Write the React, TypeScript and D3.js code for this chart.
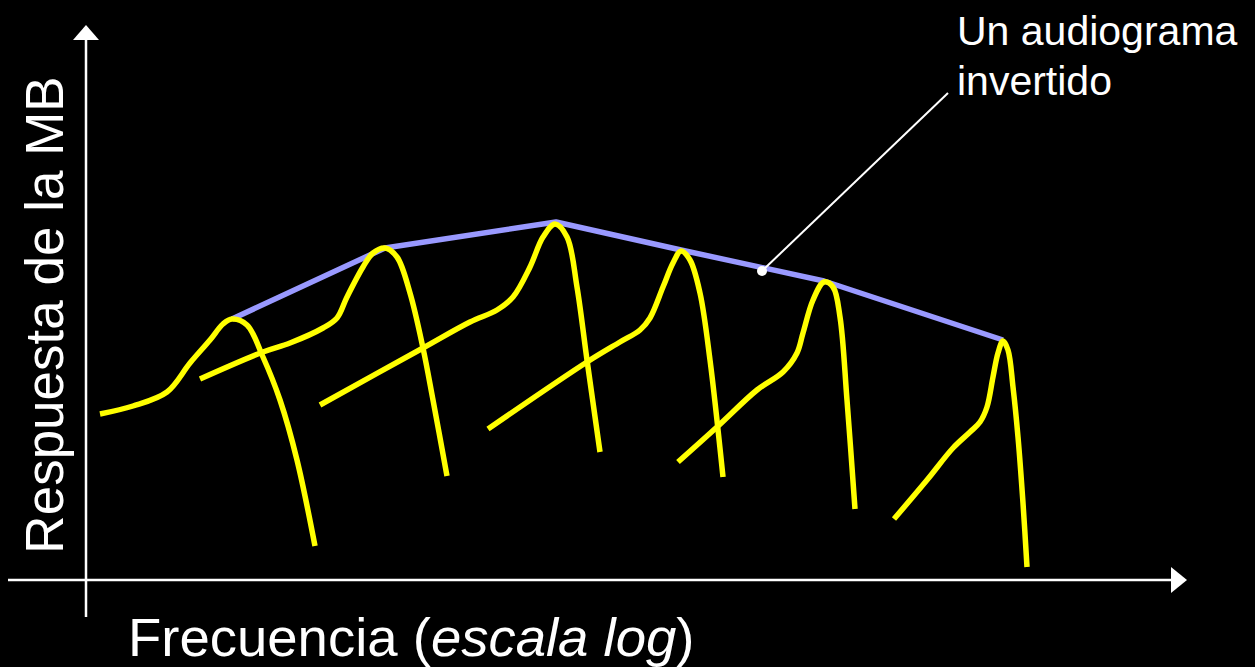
import React, { useEffect } from "react";
import * as d3 from "d3";

// tuning curves of the basilar membrane: [log frequency, response]
const curve1: [number, number][] = [
  [1.4, 16.6], [4.7, 17.4], [8.1, 18.8], [10.4, 21.7], [12.4, 24.0], [13.7, 25.6],
  [14.6, 26.1], [16.1, 25.5], [17.7, 22.3], [19.4, 18.0], [21.1, 12.0], [22.9, 3.4],
];
const curve2: [number, number][] = [
  [11.4, 20.1], [17.7, 22.8], [20.4, 23.7], [23.7, 25.2], [25.1, 26.2], [26.1, 28.3],
  [27.7, 31.3], [28.7, 32.7], [29.9, 33.2], [31.1, 32.3], [32.4, 28.7], [33.7, 23.2],
  [34.7, 18.0], [36.1, 10.4],
];
const curve3: [number, number][] = [
  [23.4, 17.5], [33.7, 23.2], [38.4, 25.8], [41.1, 27.0], [42.7, 28.3], [44.4, 31.3],
  [45.7, 34.3], [46.9, 35.6], [48.1, 34.3], [49.1, 29.3], [50.1, 22.0], [51.4, 12.8],
];
const curve4: [number, number][] = [
  [40.2, 15.1], [50.1, 21.8], [53.4, 23.8], [55.4, 25.0], [56.4, 26.2], [57.7, 29.3],
  [58.7, 31.7], [59.5, 32.9], [60.4, 32.0], [61.4, 28.7], [62.4, 22.0], [63.7, 10.3],
];
const curve5: [number, number][] = [
  [59.2, 11.8], [63.1, 15.3], [67.1, 19.0], [69.7, 20.8], [71.1, 22.7], [71.7, 24.7],
  [72.7, 28.0], [73.8, 29.8], [74.7, 29.3], [75.4, 26.3], [76.1, 18.0], [76.9, 7.1],
];
const curve6: [number, number][] = [
  [80.8, 6.1], [84.1, 10.0], [86.7, 13.2], [88.4, 14.8], [89.4, 15.8], [90.1, 17.3],
  [90.7, 20.3], [91.2, 22.7], [91.7, 23.9], [92.2, 23.0], [92.7, 19.3], [93.2, 14.3],
  [93.7, 7.7], [94.1, 1.3],
];
const curves = [curve1, curve2, curve3, curve4, curve5, curve6];

// the envelope through the peaks ("inverted audiogram")
const envelope: [number, number][] = [
  [14.6, 26.1], [29.9, 33.2], [47.0, 35.8], [59.5, 33.0], [73.8, 29.9], [91.7, 24.0],
];

const noteDot: [number, number] = [67.6, 30.9];
const noteEnd: [number, number] = [86.2, 48.7];
const noteLines = ["Un audiograma", "invertido"];
const yLabel = "Respuesta de la MB";
const xLabel = ["Frecuencia (", "escala log", ")"];

const W = 1255;
const H = 667;
const FONT = "'Liberation Sans', Arial, sans-serif";

export default function App() {
  useEffect(() => {
    document.body.style.margin = "0";
    document.body.style.background = "#000";
  }, []);

  const x = d3.scaleLinear().domain([0, 110]).range([86, 1186]);
  const y = d3.scaleLinear().domain([0, 56]).range([580, 20]);

  const smooth = d3
    .line<[number, number]>()
    .x((d) => x(d[0]))
    .y((d) => y(d[1]))
    .curve(d3.curveCatmullRom.alpha(0.5));
  const straight = d3
    .line<[number, number]>()
    .x((d) => x(d[0]))
    .y((d) => y(d[1]));

  // axes
  const x0 = x(0);
  const y0 = y(0);
  const xTip = x(110.1);
  const yTip = y(55.5);

  return (
    <div style={{ position: "fixed", inset: 0, background: "#000" }}>
      <svg width={W} height={H} style={{ display: "block" }} fontFamily={FONT}>
        <rect width={W} height={H} fill="#000" />

        {/* axes */}
        <line x1={x(-7.8)} y1={y0} x2={xTip - 14} y2={y0} stroke="#fff" strokeWidth={2.5} />
        <polygon
          points={`${xTip},${y0} ${xTip - 16},${y0 - 13} ${xTip - 16},${y0 + 13}`}
          fill="#fff"
        />
        <line x1={x0} y1={y(-3.7)} x2={x0} y2={yTip + 14} stroke="#fff" strokeWidth={2.5} />
        <polygon
          points={`${x0},${yTip} ${x0 - 13},${yTip + 15} ${x0 + 13},${yTip + 15}`}
          fill="#fff"
        />

        {/* envelope */}
        <path
          d={straight(envelope) ?? ""}
          fill="none"
          stroke="#9999ff"
          strokeWidth={5.5}
          strokeLinejoin="round"
        />

        {/* tuning curves */}
        {curves.map((c, i) => (
          <path
            key={i}
            d={smooth(c) ?? ""}
            fill="none"
            stroke="#ffff00"
            strokeWidth={5.5}
            strokeLinejoin="round"
          />
        ))}

        {/* annotation */}
        <line
          x1={x(noteDot[0])}
          y1={y(noteDot[1])}
          x2={x(noteEnd[0])}
          y2={y(noteEnd[1])}
          stroke="#fff"
          strokeWidth={2}
        />
        <circle cx={x(noteDot[0])} cy={y(noteDot[1])} r={5} fill="#fff" />
        {noteLines.map((t, i) => (
          <text key={t} x={957} y={45 + i * 50} fill="#fff" fontSize={41}>
            {t}
          </text>
        ))}

        {/* axis labels */}
        <text
          transform={`translate(63,315) rotate(-90)`}
          textAnchor="middle"
          fill="#fff"
          fontSize={53}
        >
          {yLabel}
        </text>
        <text x={128} y={656} fill="#fff" fontSize={54.5}>
          {xLabel[0]}
          <tspan fontStyle="italic">{xLabel[1]}</tspan>
          {xLabel[2]}
        </text>
      </svg>
    </div>
  );
}
